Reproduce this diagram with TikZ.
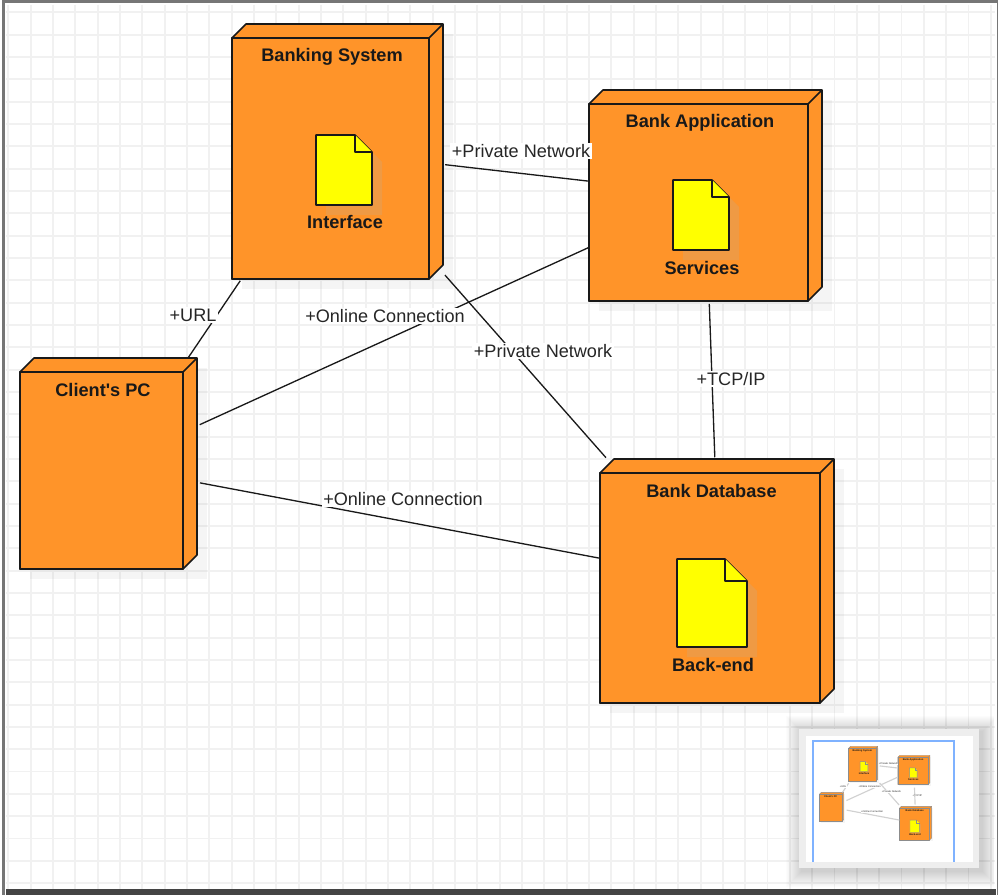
\documentclass[tikz,border=0pt]{standalone}
\usepackage{fontspec}
\setmainfont{Liberation Sans}
\usepackage{xcolor}
\usetikzlibrary{positioning, calc}
\definecolor{nodeorange}{HTML}{FF9429}
\definecolor{docyellow}{HTML}{FFFF00}
\definecolor{gridgray}{HTML}{F1F1F1}
\definecolor{framegray}{HTML}{767676}
\definecolor{bardark}{HTML}{444444}
\definecolor{panelgray}{HTML}{EEEEEE}
\definecolor{miniblue}{HTML}{7FB2FF}
\tikzset{
    gridline/.style={gridgray, line width=1.1pt},
    boxline/.style={draw=black!90, fill=nodeorange, line width=0.9pt, line join=round},
    docline/.style={draw=black!90, fill=docyellow, line width=0.9pt, line join=round},
    boxshadow/.style={fill=gray, opacity=0.08},
    docshadow/.style={fill=gray!60, opacity=0.2},
    boxbound/.style={inner sep=0pt, outer sep=0pt},
    boxtitle/.style={font=\fontsize{10.35}{12}\selectfont\bfseries, text=black!90, inner sep=0pt, anchor=base},
    link/.style={draw=black!90, line width=0.75pt},
    linklabel/.style={font=\fontsize{10.3}{12}\selectfont, text=black!85, fill=white, inner sep=1pt}
}
% #1 name, #2 #3 front corner, #4 width, #5 height, #6 title
\newcommand{\devnode}[6]{
    \fill[boxshadow] (#2+10,#3+10-14) -- ++(#4+14,0) -- ++(0,#5+14) -- ++(-#4-14,0) -- cycle;
    \draw[boxline] (#2,#3) -- ++(14,-14) -- ++(#4,0) -- ++(0,#5) -- ++(-14,14) -- ++(-#4,0) -- cycle;
    \draw[boxline] (#2,#3) rectangle ++(#4,#5);
    \draw[boxline] (#2+#4,#3) -- ++(14,-14);
    \node[boxbound, minimum width={(#4+14)*0.02cm}, minimum height={(#5+14)*0.02cm}] (#1) at (#2+#4/2+7,#3+#5/2-7) {};
    \node[boxtitle] (#1-title) at (#2+#4/2+1.5,#3+24) {#6};
}
% #1 name, #2 #3 corner, #4 width, #5 height, #6 fold, #7 title
\newcommand{\devdoc}[7]{
    \fill[docshadow] (#2+10,#3+10) -- ++(#4-#6,0) -- ++(#6,#6) -- ++(0,#5-#6) -- ++(-#4,0) -- cycle;
    \draw[docline] (#2,#3) -- ++(#4-#6,0) -- ++(#6,#6) -- ++(0,#5-#6) -- ++(-#4,0) -- cycle;
    \draw[docline] (#2+#4-#6,#3) -- ++(0,#6) -- ++(#6,0);
    \node[boxtitle] (#1) at (#2+#4/2+1,#3+#5+24) {#7};
}
\newcommand{\bankdiagram}{
    % Nodes
    \devnode{banking}{232}{38}{197}{241}{Banking System}
    \devnode{application}{589}{104}{219}{197}{Bank Application}
    \devnode{client}{20}{372}{163}{197}{Client\textquotesingle s PC}
    \devnode{database}{600}{473}{220}{230}{Bank Database}

    % Documents
    \devdoc{interface}{316}{135}{56}{70}{17}{Interface}
    \devdoc{services}{673}{180}{56}{70}{17}{Services}
    \devdoc{backend}{677}{559}{70}{88}{22}{Back-end}

    % Connectors
    \draw[link, shorten <=1.2pt] (banking.-7.2) -- (application.173.9);
    \draw[link, shorten <=1.7pt, shorten >=1pt] (banking.-49) -- (database.132.2);
    \draw[link, shorten >=1.2pt] (client.53.3) -- (banking.233.5);
    \draw[link, shorten <=1.7pt] (client.23.5) -- (application.204.7);
    \draw[link, shorten <=1.7pt] (client.-12.1) -- (database.169.35);
    \draw[link, shorten <=1.7pt, shorten >=1pt] (application.-88.3) -- (database.91.6);

    % Labels
    \node[linklabel] (urllabel) at (193,315) {+URL};
    \node[linklabel] (privatelabel) at (521,151) {+Private Network};
    \node[linklabel] (onlinelabel) at (385,316) {+Online Connection};
    \node[linklabel] (privatedblabel) at (543,351) {+Private Network};
    \node[linklabel] (tcplabel) at (731,379) {+TCP/IP};
    \node[linklabel] (onlinedblabel) at (403,499) {+Online Connection};
}
\begin{document}
\begin{tikzpicture}[x=0.02cm, y=-0.02cm]
    \useasboundingbox (0,0) rectangle (1000,895);
    \fill[white] (0,0) rectangle (1000,895);

    % Grid
    \foreach \k in {0,...,44}
        \draw[gridline] ({8.3+22.33*\k},5) -- ({8.3+22.33*\k},889);
    \foreach \k in {0,...,39}
        \draw[gridline] (6,{12.3+22.33*\k}) -- (995,{12.3+22.33*\k});

    \bankdiagram

    % Outline panel
    \begin{scope}
        \clip (6,5) rectangle (994,889);
        \foreach \d in {1,...,16}
            \fill[black, opacity=0.01] (799-\d+3,729-\d+3) rectangle (979+\d+3,868+\d+3);
    \end{scope}
    \fill[panelgray] (799,729) rectangle (979,868);
    \fill[white] (806,736) rectangle (973,862);
    \draw[miniblue, line width=0.9pt] (813,862) -- (813,741) -- (954,741) -- (954,862);
    \begin{scope}[shift={(816.5,743)}, scale=0.138, transform shape, name prefix=mini-,
        boxline/.append style={draw=black!45, line width=0.2pt},
        docline/.append style={draw=black!45, line width=0.2pt},
        link/.append style={draw=black!18, line width=0.65pt}]
        \bankdiagram
    \end{scope}

    % Frame
    \fill[bardark] (6,889) rectangle (996,895);
    \fill[framegray] (2,0) rectangle (5,895);
    \fill[framegray] (2,0) rectangle (998,3);
    \fill[framegray] (996.5,0) rectangle (998,895);
\end{tikzpicture}
\end{document}
